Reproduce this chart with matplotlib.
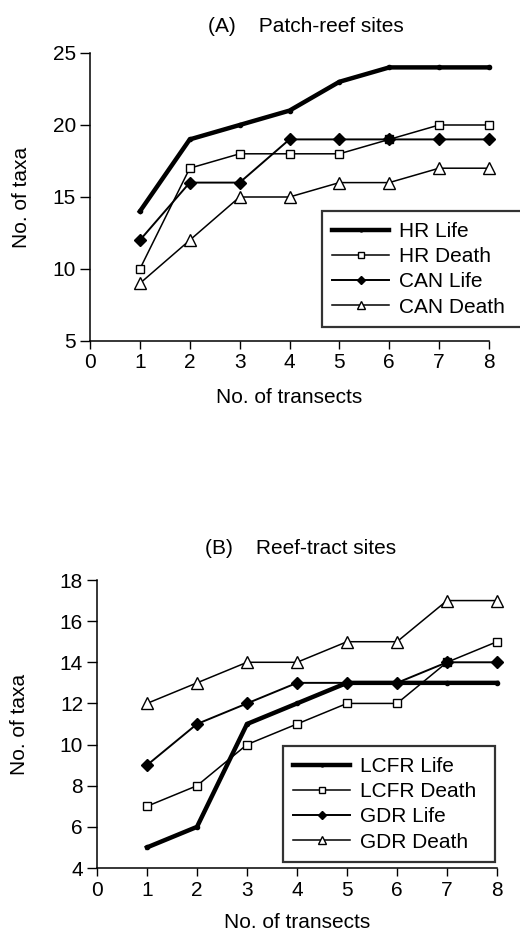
import matplotlib
matplotlib.use('Agg')
import matplotlib.pyplot as plt

plt.rcParams['font.family'] = ['Liberation Sans', 'DejaVu Sans']

transects = [1, 2, 3, 4, 5, 6, 7, 8]

# (A) patch-reef sites
hr_life = [14, 19, 20, 21, 23, 24, 24, 24]
hr_death = [10, 17, 18, 18, 18, 19, 20, 20]
can_life = [12, 16, 16, 19, 19, 19, 19, 19]
can_death = [9, 12, 15, 15, 16, 16, 17, 17]

# (B) reef-tract sites
lcfr_life = [5, 6, 11, 12, 13, 13, 13, 13]
lcfr_death = [7, 8, 10, 11, 12, 12, 14, 15]
gdr_life = [9, 11, 12, 13, 13, 13, 14, 14]
gdr_death = [12, 13, 14, 14, 15, 15, 17, 17]

W, H = 520, 931
fig = plt.figure(figsize=(W / 100, H / 100), dpi=100)


def draw(ax, series, labels, ylim, yticks, title, title_x, legend_box,
         ylpad, xlpad, tpad):
    life1, death1, life2, death2 = series
    ax.plot(transects, life1, color='black', lw=3.2, marker='o', ms=3,
            label=labels[0], clip_on=False)
    ax.plot(transects, death1, color='black', lw=1.1, marker='s', ms=5.5,
            mfc='white', mew=1, label=labels[1], clip_on=False)
    ax.plot(transects, life2, color='black', lw=1.4, marker='D', ms=6,
            label=labels[2], clip_on=False)
    ax.plot(transects, death2, color='black', lw=1.1, marker='^', ms=8.5,
            mfc='white', mew=1, label=labels[3], clip_on=False)
    ax.set_xlim(0, 8)
    ax.set_ylim(*ylim)
    ax.set_xticks(range(0, 9))
    ax.set_yticks(yticks)
    for s in ['top', 'right']:
        ax.spines[s].set_visible(False)
    for s in ['left', 'bottom']:
        ax.spines[s].set_linewidth(1.1)
    ax.tick_params(direction='out', width=1, labelsize=15, pad=3)
    ax.tick_params(axis='y', length=7)
    ax.tick_params(axis='x', length=6)
    ax.set_xlabel('No. of transects', fontsize=15, labelpad=xlpad)
    ax.set_ylabel('No. of taxa', fontsize=15, labelpad=ylpad)
    ax.set_title(title, fontsize=15, pad=tpad, x=title_x)
    x0, y0, x1, y1 = legend_box
    leg = ax.legend(loc='lower left', mode='expand',
                    bbox_to_anchor=(x0 / W, 1 - y1 / H, (x1 - x0) / W, (y1 - y0) / H),
                    bbox_transform=fig.transFigure, fontsize=15, frameon=True,
                    fancybox=False, handlelength=2.7, handletextpad=0.5,
                    borderpad=0.5, labelspacing=0.3, borderaxespad=0,
                    markerscale=0.7)
    leg.get_frame().set_edgecolor('black')
    leg.get_frame().set_linewidth(1.6)


ax1 = fig.add_axes([90 / W, 1 - 341 / H, 399 / W, 288 / H])
draw(ax1, [hr_life, hr_death, can_life, can_death],
     ['HR Life', 'HR Death', 'CAN Life', 'CAN Death'],
     (5, 25), [5, 10, 15, 20, 25], '(A)    Patch-reef sites', 0.54,
     (322, 204, 535, 327), 16, 11, 15)

ax2 = fig.add_axes([97 / W, 1 - 868 / H, 400 / W, 288 / H])
draw(ax2, [lcfr_life, lcfr_death, gdr_life, gdr_death],
     ['LCFR Life', 'LCFR Death', 'GDR Life', 'GDR Death'],
     (4, 18), [4, 6, 8, 10, 12, 14, 16, 18], '(B)    Reef-tract sites', 0.51,
     (283, 741, 495, 862), 22, 10, 19)

fig.savefig('out.png', dpi=100)
